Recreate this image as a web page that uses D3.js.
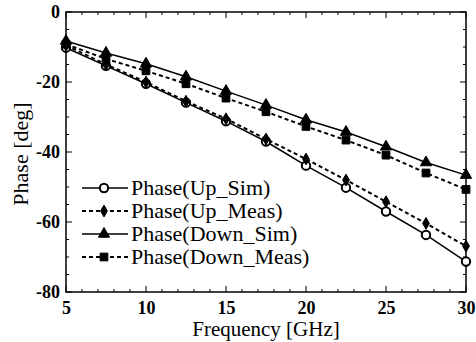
<!doctype html>
<html>
<head>
<meta charset="utf-8">
<style>
  body { margin: 0; background: #fff; }
  text { font-family: "Liberation Serif", "Times New Roman", serif; fill: #000; }
  .tick text { font-weight: bold; font-size: 18px; }
</style>
<script src="https://d3js.org/d3.v7.min.js"></script>
</head>
<body>
<svg width="476" height="342"></svg>
<script>
var freq = [5, 7.5, 10, 12.5, 15, 17.5, 20, 22.5, 25, 27.5, 30];
var upSim = [-10.2, -15.4, -20.5, -25.9, -31.2, -37, -43.9, -50.2, -57, -63.7, -71.3];
var upMeas = [-9.5, -15, -20, -25.5, -30.5, -36.3, -42, -48, -54.2, -60.4, -66.9];
var downSim = [-8.3, -11.7, -14.8, -18.5, -22.6, -26.6, -30.8, -34.3, -38.5, -43, -46.6];
var downMeas = [-9.2, -13.4, -16.8, -20.5, -24.6, -28.5, -32.7, -36.6, -40.9, -46, -50.7];
var xTicks = [5, 10, 15, 20, 25, 30];
var yTicks = [0, -20, -40, -60, -80];
var names = ["Phase(Up_Sim)", "Phase(Up_Meas)", "Phase(Down_Sim)", "Phase(Down_Meas)"];

var svg = d3.select("svg");
var pLeft = 66, pRight = 466, pTop = 12, pBottom = 292;

var x = d3.scaleLinear().domain([5, 30]).range([pLeft, pRight]);
var y = d3.scaleLinear().domain([-80, 0]).range([pBottom, pTop]);

// frame
svg.append("rect")
   .attr("x", pLeft).attr("y", pTop)
   .attr("width", pRight - pLeft).attr("height", pBottom - pTop)
   .attr("fill", "none").attr("stroke", "#000").attr("stroke-width", 1.5);

// major + minor ticks, pointing in
var g = svg.append("g").attr("stroke", "#000").attr("stroke-width", 1);
d3.range(5, 30.01, 1).forEach(function(v) {
  var len = (v % 5 == 0) ? 6 : 3;
  g.append("line").attr("x1", x(v)).attr("x2", x(v)).attr("y1", pBottom).attr("y2", pBottom - len);
  g.append("line").attr("x1", x(v)).attr("x2", x(v)).attr("y1", pTop).attr("y2", pTop + len);
});
d3.range(-80, 0.01, 5).forEach(function(v) {
  var len = (v % 20 == 0) ? 6 : 3;
  g.append("line").attr("y1", y(v)).attr("y2", y(v)).attr("x1", pLeft).attr("x2", pLeft + len);
  g.append("line").attr("y1", y(v)).attr("y2", y(v)).attr("x1", pRight).attr("x2", pRight - len);
});

// axes (labels only)
var fmt = function(d) { return String(d); };

svg.append("g")
   .attr("transform", "translate(0," + pBottom + ")")
   .call(d3.axisBottom(x).tickValues(xTicks).tickFormat(fmt).tickSize(0).tickPadding(9))
   .call(function(a) { a.select(".domain").remove(); });

svg.append("g")
   .attr("transform", "translate(" + pLeft + ",0)")
   .call(d3.axisLeft(y).tickValues(yTicks).tickFormat(fmt).tickSize(0).tickPadding(6))
   .call(function(a) { a.select(".domain").remove(); });

svg.append("text")
   .attr("x", (pLeft + pRight) / 2).attr("y", 336)
   .attr("text-anchor", "middle").attr("font-size", "21px")
   .text("Frequency [GHz]");

svg.append("text")
   .attr("transform", "translate(28,154) rotate(-90)")
   .attr("text-anchor", "middle").attr("font-size", "22px")
   .text("Phase [deg]");

// series
var series = [
  { vals: upSim, dash: null, mark: "circle" },
  { vals: upMeas, dash: "4,3", mark: "diamond" },
  { vals: downSim, dash: null, mark: "triangle" },
  { vals: downMeas, dash: "4,3", mark: "square" }
];

var line = d3.line().x(function(d) { return x(d[0]); }).y(function(d) { return y(d[1]); });

function symbolFor(m) {
  if (m == "circle") return d3.symbol().type(d3.symbolCircle).size(55);
  if (m == "diamond") return d3.symbol().type(d3.symbolDiamond).size(40);
  if (m == "triangle") return d3.symbol().type(d3.symbolTriangle).size(55);
  return d3.symbol().type(d3.symbolSquare).size(60);
}

series.forEach(function(s) {
  var pts = freq.map(function(f, i) { return [f, s.vals[i]]; });
  svg.append("path")
     .attr("d", line(pts))
     .attr("fill", "none").attr("stroke", "#000")
     .attr("stroke-width", s.dash ? 2 : 1.5)
     .attr("stroke-dasharray", s.dash);
  svg.selectAll(null).data(pts).enter()
     .append("path")
     .attr("d", symbolFor(s.mark)())
     .attr("transform", function(d) { return "translate(" + x(d[0]) + "," + y(d[1]) + ")"; })
     .attr("fill", s.mark == "circle" ? "#fff" : "#000")
     .attr("stroke", "#000").attr("stroke-width", s.mark == "circle" ? 2 : 1);
});

// legend
var legY = [188, 211, 234, 257];
series.forEach(function(s, i) {
  var lg = svg.append("g").attr("transform", "translate(0," + legY[i] + ")");
  lg.append("line").attr("x1", 82).attr("x2", 128).attr("y1", 0).attr("y2", 0)
    .attr("stroke", "#000").attr("stroke-width", s.dash ? 2 : 1.5)
    .attr("stroke-dasharray", s.dash);
  lg.append("path").attr("d", symbolFor(s.mark)())
    .attr("transform", "translate(104,0)")
    .attr("fill", s.mark == "circle" ? "#fff" : "#000")
    .attr("stroke", "#000").attr("stroke-width", s.mark == "circle" ? 2 : 1);
  lg.append("text").attr("x", 131).attr("y", 7)
    .attr("font-size", "22px").text(names[i]);
});
</script>
</body>
</html>
